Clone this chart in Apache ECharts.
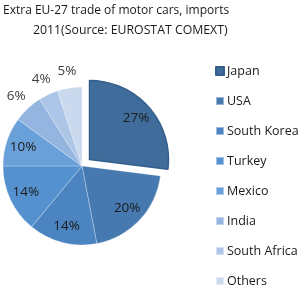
<!DOCTYPE html>
<html>
<head>
<meta charset="utf-8">
<script src="https://cdn.jsdelivr.net/npm/echarts@6/dist/echarts.min.js"></script>
<style>
    html, body { margin: 0; padding: 0; background: #ffffff; }
    #chart { width: 300px; height: 300px; }
</style>
</head>
<body>
<div id="chart"></div>
<script>
const countries = ["Japan", "USA", "South Korea", "Turkey", "Mexico", "India", "South Africa", "Others"];
const shares = [27, 20, 14, 14, 10, 6, 4, 5];
const sliceColors = ["#3f6c9b", "#4679b0", "#4b84c0", "#5591cf", "#6aa0da", "#93b5df", "#adc6e8", "#cad9ee"];
const outsideLabels = ["India", "South Africa", "Others"];
const titleLines = ["Extra EU-27 trade of motor cars, imports", "2011(Source: EUROSTAT COMEXT)"];

const fontFamily = "'Open Sans', sans-serif";
const center = [82, 166];

const chart = echarts.init(document.getElementById("chart"), null, { renderer: "canvas" });

const sliceData = countries.map((name, i) => ({
    name,
    value: shares[i],
    selected: name === "Japan",
    itemStyle: name === "Japan"
        ? { color: sliceColors[i], borderColor: "#345f8c", borderWidth: 1.5 }
        : { color: sliceColors[i] }
}));

// label-only rings: inner labels for big slices, outer ring for the small ones
function labelRing(outside) {
    return countries.map((name, i) => ({
        name,
        value: shares[i],
        selected: name === "Japan",
        label: { show: outsideLabels.includes(name) === outside }
    }));
}

const titleStyle = { fontFamily, fontSize: 12, fontWeight: "normal", color: "#1a1a1a" };

chart.setOption({
    backgroundColor: "#ffffff",
    animation: false,
    color: sliceColors,
    title: [
        { text: titleLines[0], left: 3, top: 5, padding: 0, textStyle: titleStyle },
        { text: titleLines[1], left: 33, top: 24, padding: 0, textStyle: { ...titleStyle, fontSize: 12.3 } }
    ],
    legend: {
        orient: "vertical",
        left: 210,
        top: 59,
        itemWidth: 8,
        itemHeight: 8,
        itemGap: 16,
        icon: "rect",
        selectedMode: false,
        data: countries,
        textStyle: { fontFamily, fontSize: 12.5, color: "#1a1a1a", lineHeight: 14, padding: [0, 0, 0, -2] }
    },
    series: [
        {
            type: "pie",
            center,
            radius: 79,
            startAngle: 90,
            selectedMode: "single",
            selectedOffset: 10,
            silent: true,
            label: { show: false },
            labelLine: { show: false },
            itemStyle: { borderColor: "rgba(255,255,255,0.45)", borderWidth: 0.6 },
            data: sliceData
        },
        {
            type: "pie",
            center,
            radius: [40, 78],
            startAngle: 90,
            selectedMode: "single",
            selectedOffset: 10,
            silent: true,
            avoidLabelOverlap: false,
            labelLayout: { hideOverlap: false },
            itemStyle: { color: "transparent" },
            label: { position: "inside", formatter: "{c}%", fontFamily, fontSize: 13.5, color: "#1a1a1a" },
            labelLine: { show: false },
            data: labelRing(false)
        },
        {
            type: "pie",
            center,
            radius: [84, 102],
            startAngle: 90,
            silent: true,
            avoidLabelOverlap: false,
            labelLayout: { hideOverlap: false },
            itemStyle: { color: "transparent" },
            label: { position: "inside", formatter: "{c}%", fontFamily, fontSize: 13.5, color: "#404040" },
            labelLine: { show: false },
            data: labelRing(true)
        }
    ]
});
</script>
</body>
</html>
